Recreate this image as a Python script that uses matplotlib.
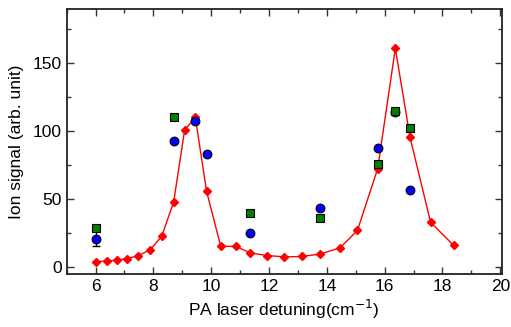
import matplotlib
matplotlib.use("Agg")
import matplotlib.pyplot as plt
from matplotlib.ticker import MultipleLocator

plt.rcParams['font.family'] = ['Liberation Sans', 'DejaVu Sans']

red_x = [6.0, 6.38, 6.73, 7.1, 7.48, 7.89, 8.29, 8.7, 9.08, 9.45, 9.84, 10.33, 10.85,
         11.34, 11.92, 12.53, 13.14, 13.75, 14.46, 15.06, 15.76, 16.37, 16.88, 17.59, 18.39]
red_y = [4.2, 4.5, 5.2, 6.4, 8.6, 12.8, 22.9, 47.9, 100.7, 110.2, 55.8, 15.3, 15.3,
         10.6, 8.6, 7.6, 7.9, 9.6, 14.3, 27.1, 72.5, 160.8, 95.4, 33.0, 16.0]

blue_x = [6.02, 8.7, 9.45, 9.85, 11.34, 13.75, 15.76, 16.37, 16.88]
blue_y = [20.9, 92.9, 107.4, 83.1, 24.8, 43.5, 87.8, 114.0, 56.8]
blue_err = [5.5, 0, 0, 0, 0, 0, 0, 0, 0]

green_x = [6.02, 8.7, 11.34, 13.75, 15.76, 16.37, 16.88]
green_y = [29.0, 110.2, 40.1, 36.4, 75.5, 114.7, 102.3]

fig = plt.figure(figsize=(5.11, 3.27), dpi=100)
ax = fig.add_axes([0.1305, 0.162, 0.8513, 0.8114])

ax.plot(red_x, red_y, color='#ff0000', lw=1.0, marker='D', ms=3.6,
        markeredgecolor='#ff0000', zorder=2)
ax.errorbar(blue_x[:1], blue_y[:1], yerr=blue_err[:1], fmt='none', ecolor='black',
            elinewidth=1.0, capsize=3, capthick=1.0, zorder=3)
ax.plot(blue_x, blue_y, ls='none', marker='o', ms=6.3, markerfacecolor='#0000ff',
        markeredgecolor='black', markeredgewidth=0.8, zorder=4)
ax.plot(green_x, green_y, ls='none', marker='s', ms=5.2, markerfacecolor='#008000',
        markeredgecolor='black', markeredgewidth=0.8, zorder=5)

ax.set_xlim(5, 20.05)
ax.set_ylim(-5, 190)
ax.xaxis.set_major_locator(MultipleLocator(2))
ax.xaxis.set_minor_locator(MultipleLocator(1))
ax.yaxis.set_major_locator(MultipleLocator(50))
ax.yaxis.set_minor_locator(MultipleLocator(25))
ax.tick_params(which='both', direction='in', top=True, right=True, labelsize=12.5,
               width=1.0, colors='#333333', labelcolor='black')
ax.tick_params(which='major', length=5)
ax.tick_params(which='minor', length=3)
for s in ax.spines.values():
    s.set_linewidth(1.3)
    s.set_color('#222222')

ax.set_xlabel('PA laser detuning(cm$^{-1}$)', fontsize=12.5, labelpad=3)
ax.set_ylabel('Ion signal (arb. unit)', fontsize=12.5, labelpad=6)

fig.savefig('out.png', dpi=100)
